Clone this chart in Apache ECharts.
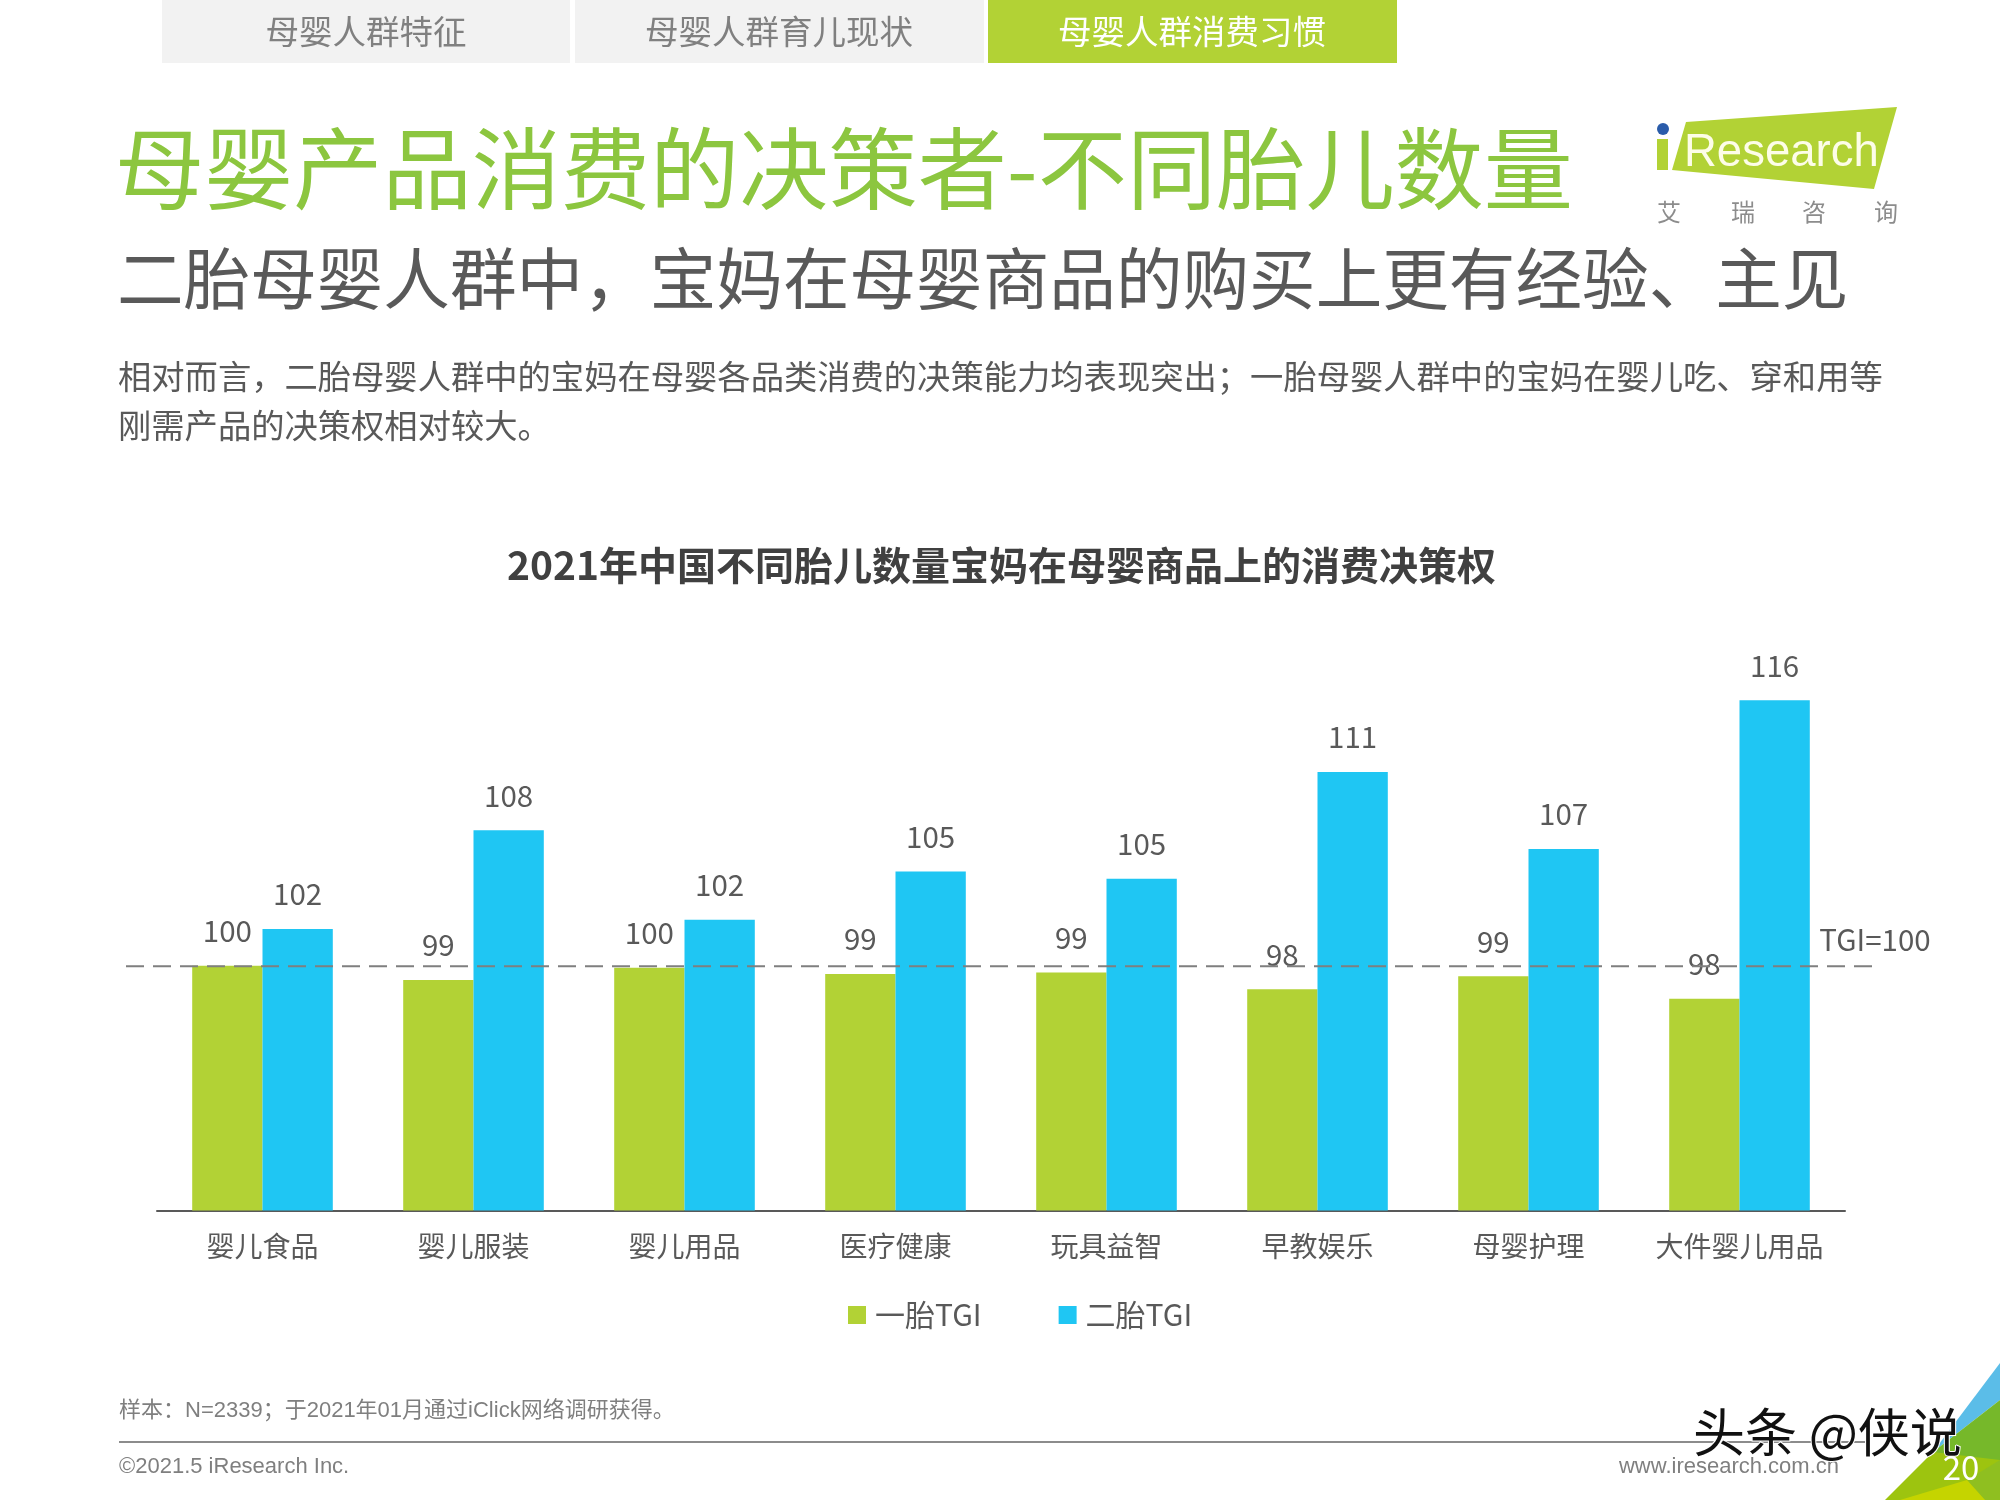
<!DOCTYPE html>
<html>
<head>
<meta charset="utf-8">
<title>母婴产品消费的决策者</title>
<style>
    html, body { margin: 0; padding: 0; background: #fff; }
    #chart { width: 2000px; height: 1500px; }
</style>
<script src="https://cdn.jsdelivr.net/npm/echarts@6/dist/echarts.min.js"></script>
</head>
<body>
<div id="chart"></div>
<script>
const categories = ['婴儿食品', '婴儿服装', '婴儿用品', '医疗健康', '玩具益智', '早教娱乐', '母婴护理', '大件婴儿用品'];
const seriesNames = ['一胎TGI', '二胎TGI'];
// bar heights, the printed labels are kept apart (the slide truncates them)
const firstChild = [100.03, 99.15, 99.91, 99.52, 99.61, 98.59, 99.38, 98.0];
const secondChild = [102.29, 108.35, 102.85, 105.81, 105.37, 111.93, 107.2, 116.34];
const firstChildLabels = ['100', '99', '100', '99', '99', '98', '99', '98'];
const secondChildLabels = ['102', '108', '102', '105', '105', '111', '107', '116'];
const tgiBase = 100;

const tabs = ['母婴人群特征', '母婴人群育儿现状', '母婴人群消费习惯'];
const chartTitle = '2021年中国不同胎儿数量宝妈在母婴商品上的消费决策权';
const pageTitle = '母婴产品消费的决策者-不同胎儿数量';
// fullwidth punctuation as escapes: \uFF0C comma, \uFF1B semicolon, \uFF1A colon
const subTitle = '二胎母婴人群中\uFF0C宝妈在母婴商品的购买上更有经验、主见';
const bodyLines = [
    '相对而言\uFF0C二胎母婴人群中的宝妈在母婴各品类消费的决策能力均表现突出\uFF1B一胎母婴人群中的宝妈在婴儿吃、穿和用等',
    '刚需产品的决策权相对较大。'
];
const sampleNote = '样本\uFF1AN=2339\uFF1B于2021年01月通过iClick网络调研获得。';
const copyright = '©2021.5 iResearch Inc.';
const website = 'www.iresearch.com.cn';
const pageNo = '20';
const watermark = '头条 @侠说';

const GREEN = '#b2d235';
const BLUE = '#1fc6f3';
const TEXT = '#595959';
const CJK = '"Noto Sans CJK SC"';
const ARIAL = '"Liberation Sans", "Noto Sans CJK SC"';

function text(str, x, y, size, color, extra) {
    return {
        type: 'text',
        x: x,
        y: y,
        silent: true,
        style: Object.assign({
            text: str,
            fontSize: size,
            fontFamily: CJK,
            fill: color,
            align: 'left',
            verticalAlign: 'middle'
        }, extra || {})
    };
}

function rect(x, y, w, h, color) {
    return { type: 'rect', silent: true, shape: { x: x, y: y, width: w, height: h }, style: { fill: color } };
}

function poly(points, color) {
    return { type: 'polygon', silent: true, shape: { points: points }, style: { fill: color } };
}

const furniture = [
    // tabs
    rect(162, 0, 408, 63, '#f2f2f2'),
    rect(575, 0, 409, 63, '#f2f2f2'),
    rect(988, 0, 409, 63, GREEN),
    text(tabs[0], 366, 31, 33.5, '#808080', { align: 'center' }),
    text(tabs[1], 779, 31, 33.5, '#808080', { align: 'center' }),
    text(tabs[2], 1192, 31, 33.5, '#ffffff', { align: 'center' }),
    // headings
    text(pageTitle, 115, 168, 89.2, '#8cc63f'),
    text(subTitle, 117, 279, 66.6, TEXT),
    text(bodyLines[0], 118, 376, 33.3, TEXT),
    text(bodyLines[1], 118, 425, 33.3, TEXT),
    // logo
    poly([[1686, 122], [1897, 107], [1874, 189], [1672, 170]], GREEN),
    rect(1657, 139, 11, 31, GREEN),
    { type: 'circle', silent: true, shape: { cx: 1663, cy: 129, r: 6 }, style: { fill: '#2a5caa' } },
    text('Research', 1684, 153, 45.5, '#fdfde8', { fontFamily: ARIAL }),
    text('艾', 1669, 212, 24, '#8c8c8c', { align: 'center' }),
    text('瑞', 1743, 212, 24, '#8c8c8c', { align: 'center' }),
    text('咨', 1814, 212, 24, '#8c8c8c', { align: 'center' }),
    text('询', 1886, 212, 24, '#8c8c8c', { align: 'center' }),
    // footer
    text(sampleNote, 119, 1411, 22, '#7f7f7f', { fontFamily: ARIAL }),
    rect(119, 1441, 1746, 2, '#8c8c8c'),
    text(copyright, 119, 1467, 22, '#7f7f7f', { fontFamily: ARIAL }),
    text(website, 1839, 1467, 22, '#7f7f7f', { fontFamily: ARIAL, align: 'right' }),
    // corner
    poly([[2000, 1363], [1933, 1452], [2000, 1400]], '#5bbde8'),
    poly([[2000, 1400], [1933, 1452], [1950, 1470], [2000, 1460]], '#76b82a'),
    poly([[1933, 1452], [1885, 1500], [2000, 1500], [2000, 1460]], '#9dc40f'),
    poly([[1967, 1480], [2000, 1460], [2000, 1500], [1985, 1500]], '#8fbf20'),
    poly([[1900, 1500], [1967, 1480], [1985, 1500]], '#c5d400'),
    text(pageNo, 1961, 1467, 33, '#ffffff', { align: 'center' }),
    text(watermark, 1693, 1432, 52, '#111111', {
        stroke: '#ffffff',
        lineWidth: 2
    })
];

const myChart = echarts.init(document.getElementById('chart'));

myChart.setOption({
    animation: false,
    backgroundColor: '#ffffff',
    textStyle: { fontFamily: CJK },
    title: {
        text: chartTitle,
        left: 507,
        top: 546,
        padding: 0,
        textStyle: { fontSize: 39, fontWeight: 'bold', color: '#404040', fontFamily: CJK }
    },
    legend: {
        data: seriesNames,
        left: 848,
        top: 1300,
        padding: 0,
        itemWidth: 18,
        itemHeight: 18,
        itemGap: 77,
        icon: 'rect',
        textStyle: { fontSize: 30, color: TEXT, fontFamily: CJK, padding: [0, 0, 0, 4] }
    },
    grid: [
        { left: 157, right: 155, top: 640.6, bottom: 289.6 },
        // wider twin grid so the TGI line can run past the category axis
        { left: 126, right: 125, top: 640.6, bottom: 289.6 }
    ],
    xAxis: [
        {
            type: 'category',
            data: categories,
            gridIndex: 0,
            axisTick: { show: false },
            axisLine: { lineStyle: { color: '#595959', width: 2 } },
            axisLabel: { fontSize: 28, color: TEXT, margin: 22, interval: 0 }
        },
        { type: 'value', gridIndex: 1, min: 0, max: 1, show: false }
    ],
    yAxis: [
        { type: 'value', gridIndex: 0, min: 85, max: 120, show: false },
        { type: 'value', gridIndex: 1, min: 85, max: 120, show: false }
    ],
    series: [
        {
            name: seriesNames[0],
            type: 'bar',
            data: firstChild,
            barWidth: 70.3,
            barGap: 0,
            itemStyle: { color: GREEN },
            label: {
                show: true,
                position: 'top',
                distance: 20,
                fontSize: 29.5,
                color: TEXT,
                formatter: (p) => firstChildLabels[p.dataIndex]
            }
        },
        {
            name: seriesNames[1],
            type: 'bar',
            data: secondChild,
            barWidth: 70.3,
            barGap: 0,
            itemStyle: { color: BLUE },
            label: {
                show: true,
                position: 'top',
                distance: 20,
                fontSize: 29.5,
                color: TEXT,
                formatter: (p) => secondChildLabels[p.dataIndex]
            }
        },
        {
            type: 'line',
            xAxisIndex: 1,
            yAxisIndex: 1,
            symbol: 'circle',
            symbolSize: 0,
            showSymbol: true,
            z: 5,
            silent: true,
            lineStyle: { color: '#7f7f7f', width: 2, type: [18, 9] },
            data: [
                [0, tgiBase],
                {
                    value: [1, tgiBase],
                    label: {
                        show: true,
                        position: 'top',
                        distance: 12,
                        fontSize: 29.5,
                        color: TEXT,
                        formatter: 'TGI=' + tgiBase
                    }
                }
            ]
        }
    ],
    graphic: furniture
});
</script>
</body>
</html>
